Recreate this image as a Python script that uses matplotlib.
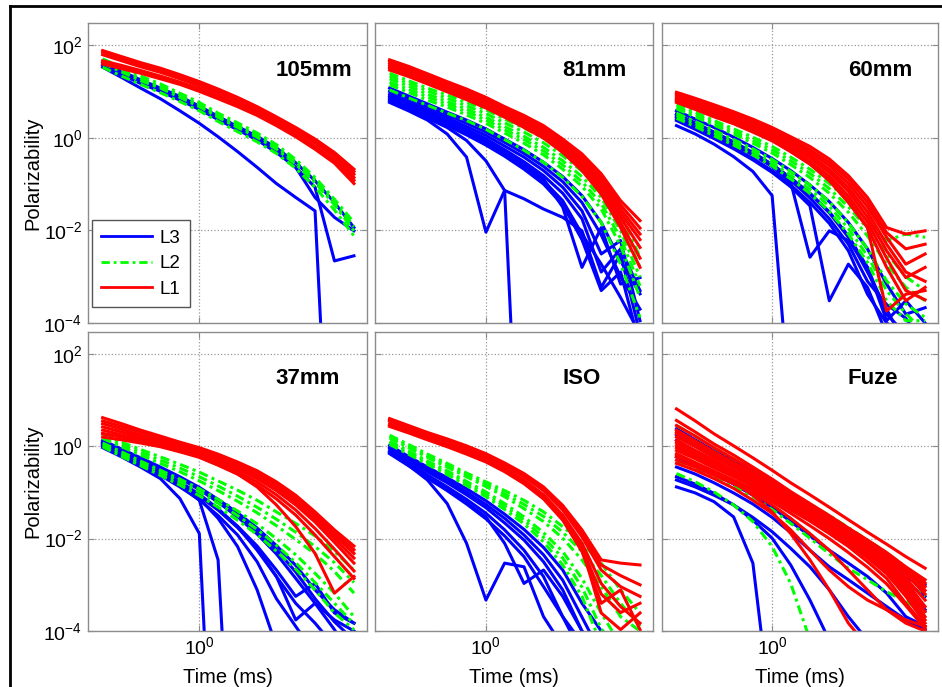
import matplotlib
matplotlib.use('Agg')
import matplotlib.pyplot as plt
from matplotlib.lines import Line2D

plt.rcParams['font.family'] = ['Liberation Sans', 'DejaVu Sans']
plt.rcParams['mathtext.fontset'] = 'custom'
plt.rcParams['mathtext.rm'] = 'Liberation Sans'
plt.rcParams['mathtext.it'] = 'Liberation Sans'

# time gates (ms)
gate_ms = [0.33, 0.41, 0.51, 0.64, 0.80, 1.0, 1.24, 1.55, 1.94, 2.42, 3.02, 3.77, 4.71, 5.89]

# decay curves, stored as log10(polarizability) at each gate, one row per target
# L3 = blue, L2 = green, L1 = red

# 105mm
l3_105 = [
    [1.63, 1.43, 1.25, 1.07, 0.89, 0.68, 0.46, 0.24, 0.03, -0.22, -0.54, -0.93, -1.40, -1.94],
    [1.56, 1.36, 1.17, 1.00, 0.81, 0.61, 0.39, 0.17, -0.05, -0.32, -0.64, -1.07, -2.66, -2.55],
    [1.52, 1.30, 1.07, 0.84, 0.58, 0.31, 0.02, -0.30, -0.64, -0.99, -1.29, -1.58, -10, -10],
    [1.58, 1.39, 1.20, 1.03, 0.84, 0.64, 0.42, 0.20, -0.01, -0.28, -0.64, -1.29, -1.72, -2.01],
]
l2_105 = [
    [1.70, 1.52, 1.33, 1.16, 0.96, 0.76, 0.53, 0.32, 0.10, -0.15, -0.47, -0.86, -1.33, -1.83],
    [1.66, 1.47, 1.28, 1.11, 0.92, 0.71, 0.48, 0.27, 0.05, -0.20, -0.52, -0.91, -1.39, -1.92],
    [1.61, 1.42, 1.23, 1.07, 0.87, 0.67, 0.44, 0.22, 0.01, -0.25, -0.57, -0.97, -1.45, -2.01],
    [1.52, 1.33, 1.15, 0.97, 0.78, 0.58, 0.35, 0.13, -0.09, -0.34, -0.66, -1.07, -1.56, -2.12],
]
l1_105 = [
    [1.88, 1.75, 1.62, 1.50, 1.36, 1.21, 1.05, 0.87, 0.67, 0.45, 0.22, -0.03, -0.32, -0.68],
    [1.84, 1.71, 1.58, 1.46, 1.32, 1.17, 1.01, 0.83, 0.63, 0.41, 0.18, -0.07, -0.36, -0.73],
    [1.79, 1.66, 1.53, 1.41, 1.27, 1.12, 0.97, 0.79, 0.58, 0.37, 0.14, -0.12, -0.41, -0.79],
    [1.66, 1.56, 1.45, 1.33, 1.20, 1.06, 0.91, 0.73, 0.53, 0.32, 0.08, -0.19, -0.48, -0.86],
    [1.62, 1.52, 1.42, 1.30, 1.17, 1.03, 0.87, 0.70, 0.50, 0.29, 0.05, -0.22, -0.52, -0.92],
    [1.59, 1.49, 1.39, 1.27, 1.15, 1.00, 0.84, 0.67, 0.48, 0.26, 0.02, -0.25, -0.55, -0.99],
]

# 81mm
l3_81 = [
    [1.07, 0.90, 0.73, 0.55, 0.38, 0.19, -0.03, -0.26, -0.53, -0.84, -1.25, -1.83, -2.66, -3.37],
    [1.00, 0.84, 0.66, 0.49, 0.31, 0.12, -0.10, -0.34, -0.62, -0.95, -1.40, -2.10, -3.00, -3.70],
    [0.94, 0.78, 0.60, 0.43, 0.24, 0.05, -0.18, -0.42, -0.71, -1.07, -1.58, -2.51, -2.22, -3.95],
    [0.90, 0.73, 0.55, 0.37, 0.18, -0.02, -0.26, -0.52, -0.82, -1.20, -1.75, -2.90, -2.40, -3.30],
    [0.84, 0.67, 0.49, 0.31, 0.11, -0.11, -0.35, -0.62, -0.93, -1.36, -2.08, -2.73, -3.45, -4.24],
    [0.80, 0.63, 0.45, 0.26, 0.06, -0.16, -0.40, -0.68, -1.00, -1.45, -2.20, -3.30, -2.90, -4.50],
    [0.76, 0.58, 0.38, 0.08, -0.42, -2.04, -1.14, -1.32, -1.54, -1.72, -2.01, -3.23, -2.51, -4.24],
    [0.80, 0.61, 0.42, 0.22, -0.06, -0.50, -1.14, -10, -10, -10, -10, -10, -10, -10],
    [0.87, 0.71, 0.54, 0.35, 0.15, -0.06, -0.32, -0.58, -0.89, -1.50, -2.80, -1.94, -3.16, -3.02],
]
l2_81 = [
    [1.39, 1.23, 1.07, 0.92, 0.76, 0.60, 0.40, 0.21, -0.01, -0.28, -0.60, -1.02, -1.65, -2.58],
    [1.33, 1.17, 1.01, 0.85, 0.69, 0.52, 0.32, 0.12, -0.11, -0.39, -0.72, -1.15, -1.83, -2.80],
    [1.27, 1.11, 0.94, 0.78, 0.62, 0.44, 0.24, 0.03, -0.21, -0.50, -0.84, -1.29, -2.01, -3.01],
    [1.20, 1.04, 0.88, 0.72, 0.56, 0.38, 0.17, -0.04, -0.29, -0.59, -0.95, -1.42, -2.17, -3.20],
    [1.14, 0.98, 0.81, 0.66, 0.49, 0.31, 0.10, -0.12, -0.37, -0.68, -1.05, -1.54, -2.33, -3.45],
    [1.03, 0.86, 0.70, 0.53, 0.37, 0.18, -0.04, -0.27, -0.53, -0.86, -1.27, -1.83, -2.73, -3.88],
]
l1_81 = [
    [1.68, 1.54, 1.38, 1.21, 1.05, 0.87, 0.67, 0.48, 0.26, -0.03, -0.35, -0.78, -1.36, -1.79],
    [1.65, 1.50, 1.34, 1.18, 1.02, 0.84, 0.64, 0.44, 0.21, -0.08, -0.41, -0.86, -1.45, -1.95],
    [1.61, 1.46, 1.30, 1.14, 0.98, 0.80, 0.60, 0.40, 0.17, -0.12, -0.46, -0.93, -1.54, -2.08],
    [1.57, 1.43, 1.27, 1.10, 0.94, 0.76, 0.56, 0.36, 0.12, -0.17, -0.52, -1.00, -1.63, -2.20],
    [1.53, 1.39, 1.23, 1.07, 0.90, 0.72, 0.52, 0.32, 0.08, -0.22, -0.58, -1.07, -1.72, -2.37],
    [1.50, 1.36, 1.20, 1.03, 0.86, 0.68, 0.48, 0.27, 0.04, -0.27, -0.65, -1.15, -1.83, -2.60],
    [1.46, 1.32, 1.16, 0.99, 0.82, 0.64, 0.44, 0.22, -0.01, -0.32, -0.71, -1.22, -1.94, -2.80],
]

# 60mm
l3_60 = [
    [0.26, 0.08, -0.14, -0.41, -0.73, -1.25, -6, -10, -10, -10, -10, -10, -10, -10],
    [0.44, 0.25, 0.06, -0.15, -0.37, -0.62, -0.96, -2.58, -2.01, -2.22, -2.80, -3.81, -4.24, -4.24],
    [0.37, 0.18, -0.02, -0.24, -0.48, -0.75, -1.06, -1.47, -3.52, -2.73, -3.23, -4.24, -4.24, -4.24],
    [0.58, 0.40, 0.22, 0.01, -0.21, -0.45, -0.71, -1.02, -1.38, -1.83, -2.40, -3.16, -3.81, -3.67],
    [0.51, 0.32, 0.12, -0.09, -0.32, -0.58, -0.87, -1.20, -1.60, -2.12, -2.80, -3.95, -3.52, -4.00],
    [0.50, 0.31, 0.11, -0.10, -0.33, -0.58, -0.87, -1.21, -1.62, -2.15, -2.90, -3.70, -4.5, -4.5],
    [0.46, 0.28, 0.08, -0.13, -0.36, -0.62, -0.92, -1.30, -1.75, -2.30, -3.10, -3.60, -3.90, -4.5],
    [0.40, 0.22, 0.01, -0.21, -0.45, -0.71, -1.02, -1.40, -1.85, -2.44, -3.38, -4.00, -4.24, -4.24],
]
l2_60 = [
    [0.71, 0.55, 0.37, 0.19, 0.01, -0.19, -0.42, -0.68, -0.99, -1.36, -1.79, -2.22, -2.08, -2.15],
    [0.66, 0.50, 0.32, 0.13, -0.06, -0.26, -0.50, -0.77, -1.10, -1.49, -1.96, -2.50, -3.00, -3.30],
    [0.62, 0.45, 0.27, 0.08, -0.12, -0.33, -0.58, -0.86, -1.20, -1.61, -2.12, -2.73, -3.23, -3.52],
    [0.53, 0.35, 0.16, -0.04, -0.24, -0.47, -0.73, -1.02, -1.38, -1.84, -2.40, -3.09, -3.59, -3.88],
    [0.48, 0.30, 0.10, -0.10, -0.30, -0.54, -0.81, -1.11, -1.48, -1.96, -2.55, -3.30, -3.80, -4.20],
    [0.42, 0.24, 0.04, -0.16, -0.37, -0.61, -0.89, -1.20, -1.59, -2.08, -2.69, -3.52, -3.95, -3.95],
]
l1_60 = [
    [0.98, 0.85, 0.71, 0.56, 0.40, 0.22, 0.02, -0.19, -0.46, -0.82, -1.29, -1.94, -2.08, -2.01],
    [0.95, 0.81, 0.67, 0.52, 0.36, 0.18, -0.03, -0.26, -0.53, -0.90, -1.39, -2.05, -2.40, -2.30],
    [0.91, 0.77, 0.63, 0.48, 0.31, 0.13, -0.08, -0.32, -0.60, -0.99, -1.49, -2.15, -2.73, -2.51],
    [0.87, 0.73, 0.58, 0.43, 0.27, 0.08, -0.14, -0.38, -0.68, -1.08, -1.60, -2.30, -2.90, -3.10],
    [0.84, 0.69, 0.54, 0.38, 0.22, 0.03, -0.19, -0.44, -0.75, -1.16, -1.71, -2.44, -3.02, -2.80],
    [0.80, 0.65, 0.50, 0.34, 0.17, -0.02, -0.25, -0.51, -0.83, -1.26, -1.82, -2.60, -3.30, -3.50],
    [0.76, 0.61, 0.45, 0.30, 0.12, -0.07, -0.30, -0.57, -0.90, -1.35, -1.94, -2.80, -3.52, -3.23],
    [0.80, 0.66, 0.50, 0.33, 0.15, -0.05, -0.30, -0.57, -0.93, -1.40, -1.94, -3.74, -3.38, -3.30],
]

# 37mm
l3_37 = [
    [-0.03, -0.23, -0.45, -0.70, -1.13, -1.89, -10, -10, -10, -10, -10, -10, -10, -10],
    [0.02, -0.17, -0.37, -0.59, -0.84, -1.17, -2.46, -10, -10, -10, -10, -10, -10, -10],
    [0.04, -0.16, -0.36, -0.58, -0.82, -1.13, -1.56, -2.17, -3.11, -4.33, -5, -5, -5, -5],
    [0.07, -0.12, -0.32, -0.53, -0.77, -1.04, -1.35, -1.74, -2.25, -2.82, -3.40, -3.83, -4.33, -4.69],
    [0.09, -0.09, -0.28, -0.48, -0.69, -0.94, -1.21, -1.53, -1.90, -2.33, -2.86, -3.40, -3.76, -4.00],
    [0.06, -0.14, -0.34, -0.55, -0.79, -1.06, -1.37, -1.73, -2.16, -2.68, -3.25, -2.97, -3.61, -3.83],
    [0.13, -0.06, -0.25, -0.45, -0.66, -0.89, -1.15, -1.44, -1.77, -2.15, -2.58, -3.11, -3.54, -3.83],
    [0.10, -0.08, -0.27, -0.47, -0.68, -0.92, -1.18, -1.48, -1.83, -2.24, -2.72, -3.30, -3.80, -4.20],
    [0.02, -0.17, -0.37, -0.59, -0.82, -1.08, -1.38, -1.76, -2.21, -2.82, -3.76, -3.40, -3.97, -4.69],
    [0.00, -0.20, -0.40, -0.63, -0.88, -1.16, -1.50, -1.92, -2.50, -3.30, -3.90, -4.5, -4.5, -4.5],
]
l2_37 = [
    [0.26, 0.09, -0.07, -0.23, -0.39, -0.56, -0.75, -0.95, -1.17, -1.42, -1.67, -1.94, -2.28, -2.68],
    [0.21, 0.04, -0.13, -0.30, -0.47, -0.66, -0.86, -1.08, -1.32, -1.58, -1.86, -2.17, -2.52, -2.95],
    [0.17, -0.01, -0.19, -0.37, -0.55, -0.75, -0.96, -1.19, -1.44, -1.72, -2.02, -2.33, -2.71, -3.18],
    [0.07, -0.12, -0.32, -0.52, -0.71, -0.92, -1.15, -1.40, -1.68, -2.00, -2.35, -2.75, -3.18, -3.69],
    [0.03, -0.17, -0.37, -0.57, -0.77, -0.99, -1.23, -1.50, -1.80, -2.14, -2.52, -2.95, -3.40, -3.85],
    [-0.01, -0.22, -0.42, -0.63, -0.84, -1.07, -1.32, -1.60, -1.91, -2.27, -2.66, -3.11, -3.61, -3.97],
]
l1_37 = [
    [0.62, 0.49, 0.35, 0.22, 0.09, -0.03, -0.17, -0.34, -0.53, -0.77, -1.06, -1.42, -1.81, -2.16],
    [0.55, 0.43, 0.30, 0.17, 0.04, -0.08, -0.21, -0.38, -0.57, -0.82, -1.11, -1.47, -1.87, -2.24],
    [0.49, 0.37, 0.24, 0.12, 0.00, -0.12, -0.25, -0.42, -0.61, -0.86, -1.15, -1.51, -1.93, -2.32],
    [0.42, 0.31, 0.20, 0.09, -0.03, -0.15, -0.29, -0.46, -0.66, -0.91, -1.21, -1.58, -2.00, -2.42],
    [0.35, 0.25, 0.15, 0.05, -0.05, -0.17, -0.32, -0.49, -0.70, -0.96, -1.27, -1.64, -2.08, -2.53],
    [0.28, 0.20, 0.11, 0.02, -0.08, -0.20, -0.36, -0.55, -0.77, -1.05, -1.38, -1.78, -2.23, -2.70],
    [0.20, 0.14, 0.07, -0.01, -0.12, -0.24, -0.41, -0.60, -0.84, -1.14, -1.49, -1.92, -2.39, -2.86],
    [0.27, 0.20, 0.11, 0.01, -0.10, -0.23, -0.40, -0.60, -0.88, -1.27, -1.74, -2.32, -3.18, -2.82],
]

# ISO
l3_iso = [
    [0.02, -0.22, -0.45, -0.68, -0.92, -1.18, -1.47, -1.80, -2.19, -2.68, -3.40, -4.00, -4.5, -4.5],
    [-0.02, -0.26, -0.50, -0.74, -0.99, -1.26, -1.56, -1.92, -2.35, -2.90, -3.70, -4.5, -4.5, -4.5],
    [-0.05, -0.30, -0.55, -0.79, -1.05, -1.33, -1.66, -2.03, -2.50, -3.11, -4.00, -4.5, -4.5, -4.5],
    [-0.10, -0.36, -0.62, -0.88, -1.15, -1.45, -1.81, -2.25, -2.82, -3.69, -4.5, -4.5, -4.5, -4.5],
    [-0.14, -0.41, -0.73, -1.24, -2.10, -3.33, -2.53, -2.61, -3.69, -4.33, -4.5, -4.5, -4.5, -4.5],
    [-0.16, -0.42, -0.69, -0.96, -1.25, -1.57, -1.94, -2.39, -3.04, -3.69, -4.26, -4.5, -4.5, -4.5],
    [-0.12, -0.39, -0.66, -0.94, -1.22, -1.53, -2.10, -2.97, -2.68, -3.25, -4.00, -4.5, -4.5, -4.5],
]
l2_iso = [
    [0.24, 0.04, -0.17, -0.37, -0.58, -0.77, -0.96, -1.17, -1.42, -1.74, -2.10, -2.53, -3.11, -3.61],
    [0.21, 0.00, -0.21, -0.41, -0.62, -0.82, -1.03, -1.26, -1.52, -1.86, -2.28, -2.80, -3.40, -3.90],
    [0.18, -0.03, -0.24, -0.45, -0.66, -0.87, -1.09, -1.35, -1.63, -1.99, -2.46, -3.04, -3.69, -4.00],
    [0.11, -0.10, -0.32, -0.53, -0.76, -0.99, -1.24, -1.53, -1.87, -2.28, -2.86, -3.61, -4.3, -4.5],
    [0.08, -0.13, -0.35, -0.57, -0.80, -1.04, -1.30, -1.60, -1.97, -2.42, -3.05, -3.95, -4.5, -4.5],
    [0.04, -0.17, -0.39, -0.61, -0.85, -1.09, -1.37, -1.68, -2.07, -2.57, -3.25, -4.3, -4.5, -4.5],
]
l1_iso = [
    [0.60, 0.45, 0.30, 0.16, 0.01, -0.16, -0.36, -0.59, -0.88, -1.28, -1.81, -2.46, -2.53, -2.57],
    [0.57, 0.42, 0.27, 0.13, -0.02, -0.19, -0.39, -0.62, -0.92, -1.33, -1.88, -2.57, -2.80, -3.00],
    [0.55, 0.40, 0.25, 0.11, -0.05, -0.22, -0.42, -0.66, -0.96, -1.38, -1.96, -2.68, -3.04, -3.25],
    [0.49, 0.35, 0.20, 0.05, -0.10, -0.27, -0.48, -0.73, -1.05, -1.49, -2.10, -2.97, -3.47, -3.83],
    [0.46, 0.32, 0.17, 0.02, -0.14, -0.31, -0.52, -0.78, -1.10, -1.55, -2.20, -3.20, -3.60, -3.40],
    [0.43, 0.29, 0.14, -0.01, -0.17, -0.34, -0.55, -0.81, -1.14, -1.60, -2.28, -3.40, -3.11, -3.97],
    [0.46, 0.32, 0.17, 0.02, -0.13, -0.30, -0.51, -0.77, -1.09, -1.54, -2.19, -3.61, -3.97, -3.61],
]

# Fuze
l3_fuze = [
    [-0.88, -1.01, -1.20, -1.53, -2.53, -6, -10, -10, -10, -10, -10, -10, -10, -10],
    [-0.66, -0.82, -1.02, -1.27, -1.60, -1.99, -2.57, -3.33, -4.2, -4.5, -4.5, -4.5, -4.5, -4.5],
    [0.38, 0.14, -0.10, -0.33, -0.57, -0.81, -1.07, -1.31, -1.56, -1.81, -2.09, -2.46, -2.86, -3.00],
    [0.25, 0.02, -0.22, -0.45, -0.68, -0.92, -1.17, -1.42, -1.68, -1.95, -2.23, -2.55, -2.95, -3.25],
    [0.13, -0.10, -0.33, -0.55, -0.78, -1.02, -1.27, -1.53, -1.79, -2.06, -2.35, -2.68, -3.11, -3.54],
    [-0.45, -0.60, -0.79, -1.01, -1.25, -1.54, -1.87, -2.25, -2.61, -2.89, -3.18, -3.47, -3.76, -3.97],
    [-0.23, -0.40, -0.60, -0.82, -1.06, -1.32, -1.63, -1.94, -2.25, -2.53, -2.82, -3.18, -3.69, -3.90],
    [-0.73, -0.88, -1.06, -1.27, -1.54, -1.85, -2.21, -2.61, -3.11, -3.69, -4.2, -4.5, -4.5, -4.5],
]
l2_fuze = [
    [0.45, 0.22, -0.03, -0.27, -0.50, -0.75, -1.01, -1.25, -1.50, -1.76, -2.03, -2.30, -2.62, -2.97],
    [-0.59, -0.77, -0.99, -1.27, -1.63, -2.17, -2.97, -4.19, -4.5, -4.5, -4.5, -4.5, -4.5, -4.5],
    [-0.34, -0.48, -0.66, -0.86, -1.09, -1.37, -1.67, -1.99, -2.33, -2.64, -2.89, -3.15, -3.36, -3.61],
    [0.06, -0.16, -0.37, -0.59, -0.82, -1.05, -1.30, -1.54, -1.80, -2.07, -2.33, -2.62, -2.95, -3.25],
]
l1_fuze = [
    [0.81, 0.55, 0.27, 0.01, -0.25, -0.52, -0.79, -1.05, -1.32, -1.59, -1.86, -2.12, -2.39, -2.64],
    [0.56, 0.31, 0.05, -0.19, -0.45, -0.71, -0.98, -1.24, -1.50, -1.77, -2.03, -2.30, -2.61, -2.89],
    [0.45, 0.22, -0.03, -0.27, -0.51, -0.76, -1.02, -1.27, -1.52, -1.78, -2.04, -2.32, -2.64, -2.96],
    [0.35, 0.12, -0.12, -0.35, -0.58, -0.82, -1.07, -1.32, -1.56, -1.81, -2.07, -2.35, -2.68, -3.04],
    [0.31, 0.08, -0.15, -0.37, -0.60, -0.84, -1.09, -1.34, -1.58, -1.83, -2.10, -2.38, -2.72, -3.12],
    [0.27, 0.05, -0.18, -0.40, -0.63, -0.86, -1.12, -1.37, -1.61, -1.86, -2.13, -2.42, -2.77, -3.20],
    [0.20, -0.01, -0.24, -0.45, -0.68, -0.91, -1.17, -1.41, -1.66, -1.91, -2.19, -2.48, -2.86, -3.33],
    [0.13, -0.09, -0.30, -0.52, -0.74, -0.97, -1.22, -1.46, -1.71, -1.97, -2.25, -2.55, -2.93, -3.47],
    [0.08, -0.13, -0.35, -0.56, -0.77, -1.00, -1.25, -1.48, -1.73, -2.00, -2.29, -2.60, -3.00, -3.58],
    [0.02, -0.18, -0.39, -0.59, -0.80, -1.02, -1.27, -1.50, -1.76, -2.03, -2.32, -2.64, -3.07, -3.69],
    [-0.03, -0.22, -0.42, -0.62, -0.83, -1.05, -1.29, -1.53, -1.79, -2.07, -2.37, -2.70, -3.16, -3.76],
    [-0.09, -0.27, -0.47, -0.66, -0.86, -1.08, -1.32, -1.57, -1.83, -2.11, -2.42, -2.76, -3.25, -3.83],
    [-0.16, -0.35, -0.54, -0.73, -0.92, -1.14, -1.38, -1.62, -1.89, -2.17, -2.50, -2.86, -3.40, -3.90],
    [-0.20, -0.40, -0.58, -0.77, -0.97, -1.20, -1.45, -1.72, -2.00, -2.30, -2.62, -2.98, -3.45, -3.95],
    [-0.30, -0.45, -0.63, -0.81, -1.02, -1.27, -1.56, -1.89, -2.25, -2.68, -3.11, -3.54, -3.83, -4.00],
    [-0.23, -0.37, -0.55, -0.77, -1.06, -1.42, -1.89, -2.46, -3.11, -3.83, -4.33, -4.5, -4.5, -4.5],
    [-0.37, -0.52, -0.70, -0.91, -1.17, -1.45, -1.81, -2.25, -2.68, -3.04, -3.33, -3.54, -3.76, -3.90],
]

panel_names = ['105mm', '81mm', '60mm', '37mm', 'ISO', 'Fuze']
panel_l3 = [l3_105, l3_81, l3_60, l3_37, l3_iso, l3_fuze]
panel_l2 = [l2_105, l2_81, l2_60, l2_37, l2_iso, l2_fuze]
panel_l1 = [l1_105, l1_81, l1_60, l1_37, l1_iso, l1_fuze]

blue = (0, 0, 1)
green = (0, 1, 0)
red = (1, 0, 0)
dashdot = (0, (3, 1.4, 1, 1.4))
lw = 2.2

fig = plt.figure(figsize=(9.42, 6.87), dpi=100)

lefts = [88, 375, 662]
widths = [279, 278, 276]
tops = [23, 332]
heights = [300, 299]

axes = []
for i in range(6):
    r, c = divmod(i, 3)
    ax = fig.add_axes([lefts[c] / 942, 1 - (tops[r] + heights[r]) / 687,
                       widths[c] / 942, heights[r] / 687])
    axes.append(ax)

for i, ax in enumerate(axes):
    r, c = divmod(i, 3)
    for curve in panel_l3[i]:
        ax.plot(gate_ms, [10 ** v for v in curve], color=blue, lw=lw)
    for curve in panel_l2[i]:
        ax.plot(gate_ms, [10 ** v for v in curve], color=green, lw=lw, linestyle=dashdot)
    for curve in panel_l1[i]:
        ax.plot(gate_ms, [10 ** v for v in curve], color=red, lw=lw)

    ax.set_xscale('log')
    ax.set_yscale('log')
    ax.set_xlim(0.279, 6.84)
    ax.set_ylim(1e-4, 10 ** 2.475)
    ax.set_xticks([1])
    ax.set_yticks([1e-4, 1e-2, 1e0, 1e2])
    ax.minorticks_off()
    ax.grid(True, which='major', linestyle=':', color='#999999', linewidth=0.9)
    for s in ax.spines.values():
        s.set_color('#8c8c8c')
        s.set_linewidth(1.0)
    ax.tick_params(direction='in', length=4, width=0.8, color='#8c8c8c',
                   labelsize=14, pad=4, top=True, right=True)
    if c != 0:
        ax.tick_params(labelleft=False)
    else:
        ax.set_ylabel('Polarizability', fontsize=14.5)
        ax.yaxis.set_label_coords(-0.165, 0.5)
    if r == 0:
        ax.tick_params(labelbottom=False)
    else:
        ax.set_xlabel('Time (ms)', fontsize=14.5)
        ax.xaxis.set_label_coords(0.5, -0.125)
    ax.text(0.673, 0.843, panel_names[i], transform=ax.transAxes,
            fontsize=16, fontweight='bold', ha='left', va='center')

handles = [Line2D([], [], color=blue, lw=2),
           Line2D([], [], color=green, lw=2, linestyle=dashdot),
           Line2D([], [], color=red, lw=2)]
leg = axes[0].legend(handles, ['L3', 'L2', 'L1'], loc='lower left',
                     bbox_to_anchor=(0.014, 0.053), borderaxespad=0,
                     fontsize=13.5, handlelength=2.7, handletextpad=0.4,
                     labelspacing=0.45, borderpad=0.5, fancybox=False, framealpha=1)
leg.get_frame().set_edgecolor('#555555')
leg.get_frame().set_linewidth(1.0)

# outer frame
fig.add_artist(Line2D([10 / 942, 10 / 942], [0, 1 - 6 / 687], color='k', lw=2,
                      transform=fig.transFigure))
fig.add_artist(Line2D([10 / 942, 1], [1 - 6 / 687, 1 - 6 / 687], color='k', lw=2,
                      transform=fig.transFigure))

fig.savefig('out.png', dpi=100)
